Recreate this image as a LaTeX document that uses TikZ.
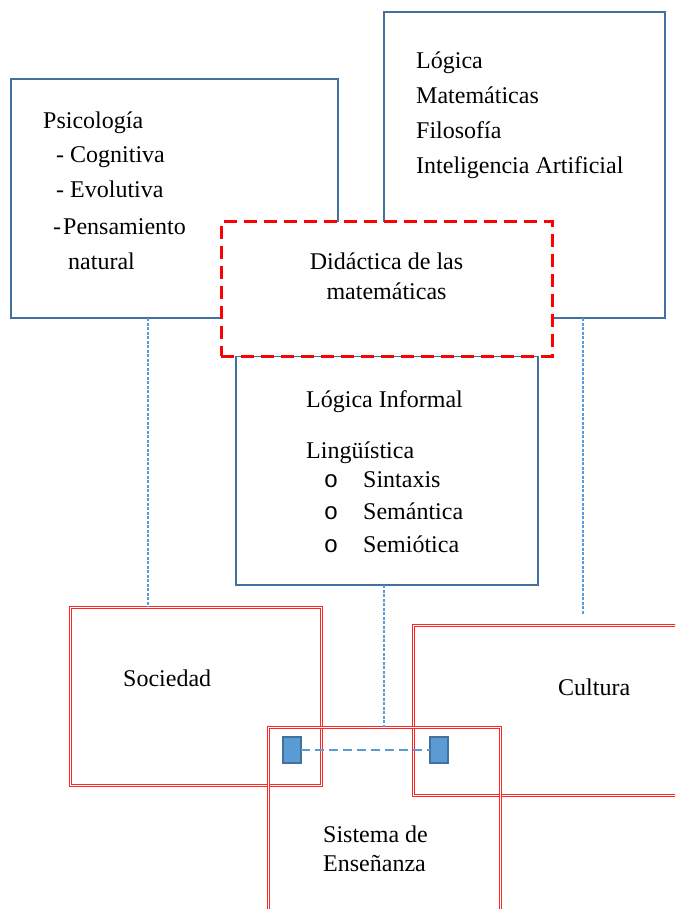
\documentclass[tikz,border=0pt]{standalone}
\usepackage{fontspec}
\setmainfont{Liberation Serif}
\newfontfamily\bulletfont{Liberation Mono}
\definecolor{boxblue}{RGB}{65,113,156}
\definecolor{linkblue}{RGB}{91,155,213}
\definecolor{boxred}{RGB}{255,0,0}
\begin{document}
\begin{tikzpicture}[x=1pt,y=-1pt,
  frame/.style={inner sep=0pt, outer sep=0pt, anchor=north west},
  bluebox/.style={frame, draw=boxblue, line width=2.5pt},
  focusbox/.style={frame, draw=boxred, fill=white, line width=3pt, dash pattern=on 13pt off 7pt},
  redbox/.style={frame, draw=boxred!85, double=white, line width=1pt, double distance=1pt},
  marker/.style={frame, draw=boxblue, fill=linkblue, line width=1.5pt, minimum width=18pt, minimum height=26pt},
  link/.style={draw=linkblue, line width=1.1pt, dash pattern=on 3pt off 1.5pt},
  bridge/.style={draw=linkblue, line width=2.5pt, dash pattern=on 9pt off 5pt},
  lbl/.style={anchor=base west, inner sep=0pt, font=\fontsize{24}{35}\selectfont},
  bul/.style={anchor=base, inner sep=0pt, font=\bulletfont\fontsize{24}{35}\selectfont}
]
\useasboundingbox (0,0) rectangle (675,909);
\clip (0,0) rectangle (675,909);

% knowledge areas
\node[bluebox, minimum width=327pt, minimum height=239pt] (psy) at (11,79) {};
\node[bluebox, minimum width=281pt, minimum height=306pt] (tr) at (384,12) {};
\node[bluebox, minimum width=302pt, minimum height=229pt] (mid) at (236,356) {};

% central discipline
\node[focusbox, minimum width=331pt, minimum height=134pt] (dm) at (221,222) {};

% context boxes
\node[redbox, minimum width=251pt, minimum height=178pt] (soc) at (70,607) {};
\node[redbox, minimum width=290pt, minimum height=170pt] (cul) at (413,625) {};
\node[redbox, minimum width=232pt, minimum height=200pt] (sis) at (268,727) {};

% dotted links
\draw[link] ([xshift=137pt]psy.south west) -- ([xshift=78pt]soc.north west);
\draw[link] ([xshift=199pt]tr.south west) -- ([xshift=170pt,yshift=10pt]cul.north west);
\draw[link] ([xshift=148pt]mid.south west) -- ([xshift=116pt]sis.north west);

% markers and their bridge
\node[marker] (m1) at (283,737) {};
\node[marker] (m2) at (430,737) {};
\draw[bridge] (m1.east) -- (m2.west);

% labels
\node[lbl] (t1) at (43,129) {Psicología};
\node[lbl] (t2) at (56,163) {- Cognitiva};
\node[lbl] (t3) at (56,198) {- Evolutiva};
\node[lbl] (t4) at (53,234) {-\kern2pt Pensamiento};
\node[lbl] (t5) at (68,269) {natural};

\node[lbl] (u1) at (416,69) {Lógica};
\node[lbl] (u2) at (416,104) {Matemáticas};
\node[lbl] (u3) at (416,139) {Filosofía};
\node[lbl] (u4) at (416,174) {Inteligencia Artificial};

\node[lbl, anchor=base] (d1) at (386.5,269) {Didáctica de las};
\node[lbl, anchor=base] (d2) at (386.5,299) {matemáticas};

\node[lbl] (v1) at (306,407) {Lógica Informal};
\node[lbl] (v2) at (306,458) {Lingüística};
\node[bul] (b1) at (331,487) {o};
\node[bul] (b2) at (331,519) {o};
\node[bul] (b3) at (331,552) {o};
\node[lbl] (v3) at (363,487) {Sintaxis};
\node[lbl] (v4) at (363,519) {Semántica};
\node[lbl] (v5) at (363,552) {Semiótica};

\node[lbl] (w1) at (123,686) {Sociedad};
\node[lbl] (w2) at (558,695) {Cultura};
\node[lbl] (w3) at (323,842) {Sistema de};
\node[lbl] (w4) at (323,871) {Enseñanza};
\end{tikzpicture}
\end{document}
